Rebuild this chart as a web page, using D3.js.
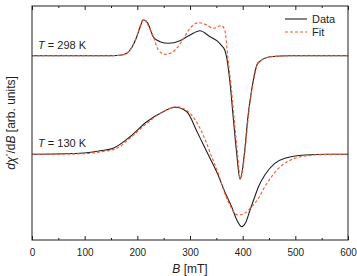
<!DOCTYPE html>
<html><head><meta charset="utf-8">
<script src="https://cdn.jsdelivr.net/npm/d3@7"></script>
<style>body{margin:0;background:#fff}svg{display:block}text{font-family:"Liberation Sans",Arial,sans-serif;fill:#231f20}</style>
</head><body><div id="chart"></div>
<script>
// Field values (mT) and signals (arb. units, relative to each trace's baseline)
const topDataB = [0,150,170,180,190,199,206,211,214,220,230,243,259,281,300,319,338,351,360,366,370,376,382,388,395,404,410,417,429,452,490,600];
const topDataY = [0,0,0.7,2.4,8.7,19,29.7,35.7,35.5,32.4,19,14,12.4,15,20.7,25,19,15,10,5.7,-2.6,-27.3,-61.3,-94.3,-123.6,-94.3,-61,-34.3,-7.3,-1,0,0];
const topFitB  = [0,150,170,180,190,199,205,212,222,228,240,252,268,284,300,316,332,344,360,366,372,378,384,390,396,405,411,418,430,454,492,600];
const topFitY  = [0,0,0.7,2.4,8.7,19.5,29.5,36.4,28.7,22.4,5.7,1.4,4,14,27.4,33,30.7,27.4,30,25.7,-2.6,-30,-64,-97,-123,-93,-60,-33,-7,-1,0,0];
const botDataB = [0,91,130,154,186,218,249,272,294,313,325,338,351,366,379,389,398,406,414,423,430,442,461,480,518,560,600];
const botDataY = [0,1,3.5,6,17.6,32.6,42.6,47,42.6,23,10,-4,-18,-37.4,-52.4,-65.7,-72.4,-68,-55.7,-42.4,-32.4,-20.7,-9,-4,-0.7,0,0];
const botFitB  = [0,91,130,161,186,218,249,275,300,319,330,341,353,366,379,385,392,404,417,430,442,455,468,480,499,518,550,600];
const botFitY  = [0,0.5,2.5,6,16,31,42.6,47.6,41,26,13,-2.4,-18,-39,-54,-59,-60.7,-59,-52.4,-44,-32.4,-22.4,-14,-9,-4,-1.7,-0.3,0];
const baselines = {top:184.3, bottom:85.7};
const xTicks = [0,100,200,300,400,500,600];
const xMinor = [50,150,250,350,450,550];
const tempLabels = ["298 K","130 K"];

const W=357,H=276, m={l:32,r:9,t:6,b:36};
const svg=d3.select("#chart").append("svg").attr("width",W).attr("height",H);
const x=d3.scaleLinear().domain([0,600]).range([m.l,W-m.r]);
const y=d3.scaleLinear().domain([0,234]).range([H-m.b,m.t]);
const ink="#231f20", red="#ef5a32";

function mk(bs,ys,off){return bs.map((b,i)=>[b,ys[i]+off]);}
const line=d3.line().x(d=>x(d[0])).y(d=>y(d[1])).curve(d3.curveMonotoneX);

const series=[
 {d:mk(topDataB,topDataY,baselines.top),c:ink,dash:null},
 {d:mk(botDataB,botDataY,baselines.bottom),c:ink,dash:null},
 {d:mk(topFitB,topFitY,baselines.top),c:red,dash:"3,2"},
 {d:mk(botFitB,botFitY,baselines.bottom),c:red,dash:"3,2"}
];
svg.append("g").selectAll("path").data(series).join("path")
 .attr("d",s=>line(s.d)).attr("fill","none").attr("stroke",s=>s.c)
 .attr("stroke-width",1.1).attr("stroke-dasharray",s=>s.dash);

// frame
svg.append("rect").attr("x",x(0)).attr("y",m.t).attr("width",x(600)-x(0)).attr("height",H-m.b-m.t)
 .attr("fill","none").attr("stroke",ink).attr("stroke-width",1);

// bottom axis
const ax=d3.axisBottom(x).tickValues(xTicks).tickSizeInner(-4).tickSizeOuter(0).tickPadding(9);
const gb=svg.append("g").attr("transform",`translate(0,${H-m.b})`).call(ax);
gb.select(".domain").remove();
gb.selectAll("line").attr("stroke",ink);
gb.selectAll("text").attr("font-size",10).style("font-family","Liberation Sans, Arial, sans-serif").attr("fill",ink);
const axm=d3.axisBottom(x).tickValues(xMinor).tickSizeInner(-2).tickSizeOuter(0).tickFormat("");
const gbm=svg.append("g").attr("transform",`translate(0,${H-m.b})`).call(axm);
gbm.select(".domain").remove(); gbm.selectAll("line").attr("stroke",ink);
// top axis
const at=d3.axisTop(x).tickValues(xTicks).tickSizeInner(-4).tickSizeOuter(0).tickFormat("");
const gt=svg.append("g").attr("transform",`translate(0,${m.t})`).call(at);
gt.select(".domain").remove(); gt.selectAll("line").attr("stroke",ink);
const atm=d3.axisTop(x).tickValues(xMinor).tickSizeInner(-2).tickSizeOuter(0).tickFormat("");
const gtm=svg.append("g").attr("transform",`translate(0,${m.t})`).call(atm);
gtm.select(".domain").remove(); gtm.selectAll("line").attr("stroke",ink);

// x label
const xl=svg.append("text").attr("x",(x(0)+x(600))/2).attr("y",273).attr("text-anchor","middle").attr("font-size",12);
xl.append("tspan").attr("font-style","italic").text("B");
xl.append("tspan").text(" [mT]");
// y label
const yl=svg.append("text").attr("transform",`translate(15,${(m.t+H-m.b)/2}) rotate(-90)`).attr("text-anchor","middle").attr("font-size",12);
yl.append("tspan").attr("font-style","italic").text("d\u03C7");
yl.append("tspan").attr("font-size",8).attr("dy",-4).text("''");
yl.append("tspan").attr("dy",4).text("/d");
yl.append("tspan").attr("font-style","italic").text("B");
yl.append("tspan").text(" [arb. units]");

// temperature labels
const tl=svg.append("g").selectAll("text").data([{t:tempLabels[0],yy:y(baselines.top)-7},{t:tempLabels[1],yy:y(baselines.bottom)-7}])
 .join("text").attr("x",38).attr("y",d=>d.yy).attr("font-size",11);
tl.append("tspan").attr("font-style","italic").text("T");
tl.append("tspan").text(d=>" = "+d.t);

// legend
const lg=svg.append("g");
[{n:"Data",c:ink,dash:null,yy:19},{n:"Fit",c:red,dash:"3,2",yy:32}].forEach(e=>{
 lg.append("line").attr("x1",285).attr("x2",307).attr("y1",e.yy).attr("y2",e.yy).attr("stroke",e.c).attr("stroke-width",1.1).attr("stroke-dasharray",e.dash);
 lg.append("text").attr("x",312).attr("y",e.yy+4).attr("font-size",11).text(e.n);
});
</script></body></html>
